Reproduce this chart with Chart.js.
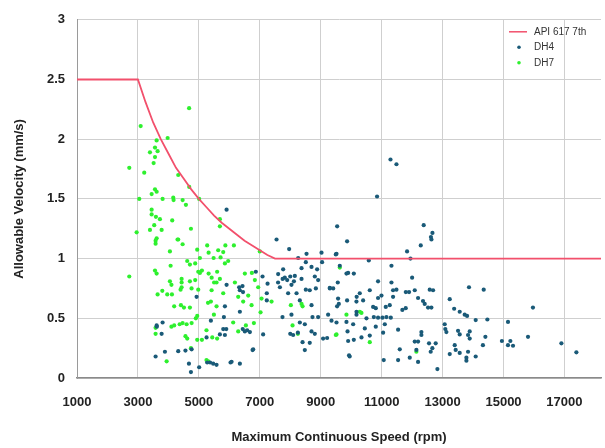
<!DOCTYPE html>
<html>
<head>
<meta charset="utf-8">
<script src="https://cdn.jsdelivr.net/npm/chart.js@4.4.1/dist/chart.umd.min.js"></script>
<style>
    html, body { margin: 0; padding: 0; background: #fff; }
    #wrap { width: 605px; height: 448px; }
</style>
</head>
<body>
<div id="wrap"><canvas id="speedChart" width="605" height="448"></canvas></div>
<script>
// tick labels on the speed axis
const xTickValues = [1000, 3000, 5000, 7000, 9000, 11000, 13000, 15000, 17000];

// API 617 7th limit line
const apiSpeed = [1000, 3000, 3250, 3500, 3750, 4000, 4250, 4500, 4750, 5000, 5250, 5500, 5750, 6000, 6250, 6500, 6750, 7000, 7250, 7500, 18200];
const apiVelocity = [2.5, 2.5, 2.31, 2.14, 2.0, 1.88, 1.76, 1.67, 1.58, 1.5, 1.43, 1.36, 1.3, 1.25, 1.2, 1.15, 1.11, 1.07, 1.03, 1.0, 1.0];

// DH4 points
const dh4Speed = [
    5910, 3810, 3614, 3778, 3620, 3886, 4323, 4762, 4560, 3580, 4926, 5910, 5855, 5822, 5395, 5800, 5900, 5690, 5855, 5253,
    5274, 5370, 5470, 5580, 4674, 5010, 4740, 6040, 6346, 6783, 6346, 6440, 6510, 7110, 7550, 9866, 7964, 8534, 9026, 9518,
    8260, 8511, 8698, 8370, 8882, 9045, 9626, 7767, 6870, 7090, 7603, 7822, 8150, 8120, 8370, 8806, 8915, 9900, 7255, 7660,
    8040, 8511, 8640, 8840, 6323, 6433, 6345, 9298, 7930, 8206, 8314, 8698, 9570, 9594, 9538, 9866, 7745, 8040, 8730, 8915,
    9243, 9354, 9518, 8314, 8478, 9845, 6586, 6675, 8000, 8095, 8250, 8698, 8806, 9078, 9210, 9880, 8404, 8640, 8478, 6763,
    9930, 9900, 6074, 9540, 9495, 9845, 10086, 9560, 9300, 9410, 11290, 11486, 10850, 12380, 12667, 12618, 12634, 12283, 11834, 11946,
    10578, 11322, 12000, 10882, 11322, 13867, 10610, 11375, 11485, 12087, 12578, 12688, 10282, 10994, 10882, 11375, 11793, 11900, 12195, 10180,
    10173, 10392, 13235, 10720, 10807, 11135, 11266, 11680, 11790, 12358, 12413, 12523, 12632, 13380, 13562, 13726, 13804, 10174, 10174, 10502,
    10743, 10882, 11027, 11157, 11300, 10065, 10447, 10807, 11103, 11048, 11540, 13070, 13090, 13125, 13508, 13562, 13890, 13836, 12305, 12305,
    10086, 10338, 10610, 12086, 12195, 12555, 12774, 13398, 12665, 12140, 11595, 12610, 13430, 13562, 13836, 13235, 9950, 11922, 13782, 13782,
    11069, 11540, 12195, 12830, 14350, 15966, 14087, 14470, 15147, 13890, 14405, 14324, 14947, 15225, 15147, 15312, 15804, 16900, 17392, 14087,
    7600, 7750, 7900, 8000, 7230, 7230, 6450
];
const dh4Velocity = [
    1.41, 0.465, 0.44, 0.37, 0.43, 0.22, 0.225, 0.24, 0.23, 0.18, 0.68, 0.78, 0.60, 0.51, 0.48, 0.41, 0.41, 0.365, 0.36, 0.34,
    0.13, 0.13, 0.12, 0.11, 0.12, 0.09, 0.05, 0.13, 0.12, 0.24, 0.555, 0.41, 0.39, 0.365, 1.16, 1.145, 1.08, 1.04, 1.05, 1.04,
    1.005, 0.97, 0.93, 0.92, 0.91, 0.97, 0.94, 0.91, 0.89, 0.85, 0.87, 0.84, 0.855, 0.81, 0.83, 0.85, 0.82, 0.88, 0.79, 0.76,
    0.78, 0.74, 0.735, 0.75, 0.76, 0.77, 0.735, 0.755, 0.71, 0.71, 0.65, 0.61, 0.665, 0.62, 0.60, 0.65, 0.51, 0.53, 0.51, 0.51,
    0.53, 0.48, 0.465, 0.465, 0.45, 0.47, 0.40, 0.385, 0.37, 0.36, 0.38, 0.39, 0.37, 0.33, 0.335, 0.39, 0.30, 0.295, 0.234, 0.234,
    0.19, 0.31, 0.136, 1.27, 1.035, 0.875, 0.875, 0.80, 0.75, 0.75, 1.83, 1.79, 1.52, 1.28, 1.215, 1.18, 1.16, 1.11, 1.06, 1.00,
    0.985, 0.94, 0.84, 0.81, 0.80, 0.76, 0.735, 0.735, 0.74, 0.735, 0.74, 0.735, 0.71, 0.69, 0.67, 0.68, 0.72, 0.72, 0.67, 0.68,
    0.64, 0.65, 0.66, 0.595, 0.585, 0.595, 0.61, 0.57, 0.585, 0.645, 0.62, 0.59, 0.59, 0.58, 0.555, 0.53, 0.52, 0.555, 0.53, 0.50,
    0.51, 0.505, 0.505, 0.51, 0.505, 0.45, 0.415, 0.43, 0.45, 0.38, 0.405, 0.45, 0.41, 0.385, 0.395, 0.365, 0.39, 0.36, 0.385, 0.36,
    0.32, 0.34, 0.355, 0.305, 0.305, 0.29, 0.29, 0.275, 0.25, 0.235, 0.24, 0.22, 0.235, 0.21, 0.22, 0.20, 0.18, 0.17, 0.17, 0.145,
    0.15, 0.15, 0.135, 0.075, 0.74, 0.59, 0.485, 0.49, 0.47, 0.33, 0.345, 0.275, 0.31, 0.31, 0.275, 0.27, 0.345, 0.29, 0.215, 0.18,
    0.80, 0.83, 0.82, 0.85, 0.71, 0.65, 0.72
];

// DH7 points
const dh7Speed = [
    4680, 3090, 3975, 3614, 3560, 3395, 3646, 3560, 3515, 2716, 3207, 4323, 4684, 3560, 3450, 3615, 3044, 3810, 4160, 4170,
    4467, 4575, 5010, 3450, 3450, 3590, 3722, 4126, 3535, 3778, 3395, 2958, 4740, 5690, 5690, 3614, 4323, 3580, 3580, 4300,
    4467, 4050, 4946, 5274, 5320, 5635, 5800, 5870, 5034, 5484, 5713, 5963, 5855, 4618, 4706, 4880, 4073, 3560, 3614, 4980,
    5034, 5100, 5320, 5600, 2716, 4050, 4434, 4434, 4706, 4880, 5580, 5690, 4434, 4760, 3800, 3646, 3962, 4116, 4980, 5418,
    5800, 5395, 4190, 4411, 4510, 4706, 5580, 4946, 5494, 4190, 4467, 4598, 4762, 3580, 3580, 4618, 4946, 5100, 5600, 4740,
    3942, 5307, 6150, 7000, 6510, 6183, 6838, 6948, 6292, 6620, 7057, 7386, 6455, 6730, 7025, 6127, 6544, 6806, 6292, 8020,
    8370, 8075, 8250, 9518, 9845, 10337, 10610, 12140, 9626, 8404, 10282, 9495, 5250, 5440, 4370, 4100, 4900, 5300, 4100, 4400,
    6740, 5420, 5500, 5250, 4560
];
const dh7Velocity = [
    2.26, 2.11, 2.01, 1.99, 1.93, 1.89, 1.90, 1.85, 1.80, 1.76, 1.72, 1.70, 1.60, 1.58, 1.54, 1.56, 1.50, 1.50, 1.51, 1.49,
    1.49, 1.45, 1.50, 1.41, 1.37, 1.35, 1.33, 1.32, 1.28, 1.24, 1.24, 1.22, 1.25, 1.33, 1.27, 1.17, 1.16, 1.15, 1.125, 1.16,
    1.12, 1.06, 1.075, 1.11, 1.05, 1.07, 1.055, 1.11, 1.005, 1.005, 1.01, 0.98, 0.96, 0.98, 0.95, 0.96, 0.94, 0.90, 0.875, 0.89,
    0.88, 0.90, 0.875, 0.89, 0.85, 0.81, 0.83, 0.80, 0.81, 0.82, 0.80, 0.83, 0.76, 0.75, 0.73, 0.70, 0.70, 0.70, 0.74, 0.735,
    0.71, 0.64, 0.60, 0.61, 0.59, 0.59, 0.60, 0.52, 0.53, 0.44, 0.46, 0.45, 0.46, 0.37, 0.42, 0.33, 0.32, 0.32, 0.33, 0.25,
    0.14, 0.14, 1.11, 1.06, 0.875, 0.80, 0.82, 0.76, 0.68, 0.69, 0.665, 0.64, 0.64, 0.61, 0.55, 0.465, 0.44, 0.46, 0.39, 0.61,
    0.62, 0.44, 0.37, 0.365, 0.53, 0.545, 0.30, 0.22, 0.925, 0.60, 0.555, 0.36, 0.40, 0.34, 0.45, 0.43, 0.50, 0.63, 0.78, 0.74,
    0.88, 0.84, 0.80, 0.15, 0.35
];

const toPoints = (xs, ys) => xs.map((x, i) => ({ x: x, y: ys[i] }));

const FONT = "'Liberation Sans', Arial, Helvetica, sans-serif";

// legend drawn inside the plot, upper right
const innerLegend = {
    id: 'innerLegend',
    afterDatasetsDraw(chart) {
        const ctx = chart.ctx;
        const area = chart.chartArea;
        const x0 = area.right - 92;
        const y0 = area.top + 12;
        ctx.save();
        ctx.font = "10px 'Liberation Sans Narrow', " + FONT;
        ctx.textBaseline = 'middle';
        chart.data.datasets.forEach((ds, i) => {
            const y = y0 + i * 15.5;
            if (ds.showLine) {
                ctx.strokeStyle = ds.borderColor;
                ctx.lineWidth = 1.5;
                ctx.beginPath();
                ctx.moveTo(x0, y);
                ctx.lineTo(x0 + 18, y);
                ctx.stroke();
            } else {
                ctx.fillStyle = ds.backgroundColor;
                ctx.beginPath();
                ctx.arc(x0 + 10, y, 1.8, 0, Math.PI * 2);
                ctx.fill();
            }
            ctx.fillStyle = '#333';
            ctx.fillText(ds.label, x0 + 25, y);
        });
        ctx.restore();
    }
};

new Chart(document.getElementById('speedChart').getContext('2d'), {
    type: 'scatter',
    data: {
        datasets: [
            {
                label: 'API 617 7th',
                data: toPoints(apiSpeed, apiVelocity),
                showLine: true,
                borderColor: '#f2506c',
                backgroundColor: '#f2506c',
                borderWidth: 1.8,
                pointRadius: 0,
                tension: 0
            },
            {
                label: 'DH4',
                data: toPoints(dh4Speed, dh4Velocity),
                borderColor: '#1a5a78',
                backgroundColor: '#1a5a78',
                pointRadius: 2.1,
                borderWidth: 0
            },
            {
                label: 'DH7',
                data: toPoints(dh7Speed, dh7Velocity),
                borderColor: '#2ef02e',
                backgroundColor: '#2ef02e',
                pointRadius: 2.1,
                borderWidth: 0
            }
        ]
    },
    options: {
        responsive: false,
        animation: false,
        layout: { padding: { top: 19, right: 3, left: 0, bottom: 0 } },
        scales: {
            x: {
                type: 'linear',
                min: 1000,
                max: 18200,
                afterBuildTicks: (scale) => {
                    scale.ticks = xTickValues.map(v => ({ value: v }));
                },
                afterFit: (scale) => { scale.height = 70; },
                grid: { color: '#cfcfcf', lineWidth: 1, drawTicks: false },
                border: { color: '#8a8a8a', width: 1.5 },
                ticks: {
                    padding: 17,
                    color: '#222',
                    font: { family: FONT, size: 13, weight: 'bold' },
                    maxRotation: 0,
                    autoSkip: false,
                    callback: (value) => String(value)
                },
                title: {
                    display: true,
                    text: 'Maximum Continuous Speed (rpm)',
                    color: '#222',
                    font: { family: FONT, size: 13, weight: 'bold' },
                    padding: { top: 0, bottom: 3 }
                }
            },
            y: {
                min: 0,
                max: 3,
                afterFit: (scale) => { scale.width = 77; },
                grid: { color: '#cfcfcf', lineWidth: 1, drawTicks: false },
                border: { color: '#9a9a9a', width: 1 },
                ticks: {
                    stepSize: 0.5,
                    padding: 12,
                    color: '#222',
                    font: { family: FONT, size: 13, weight: 'bold' },
                    callback: (value) => String(value)
                },
                title: {
                    display: true,
                    text: 'Allowable Velocity (mm/s)',
                    color: '#222',
                    font: { family: FONT, size: 13, weight: 'bold' },
                    padding: { top: 12, bottom: 0 }
                }
            }
        },
        plugins: {
            legend: { display: false },
            tooltip: { enabled: false }
        }
    },
    plugins: [innerLegend]
});
</script>
</body>
</html>
